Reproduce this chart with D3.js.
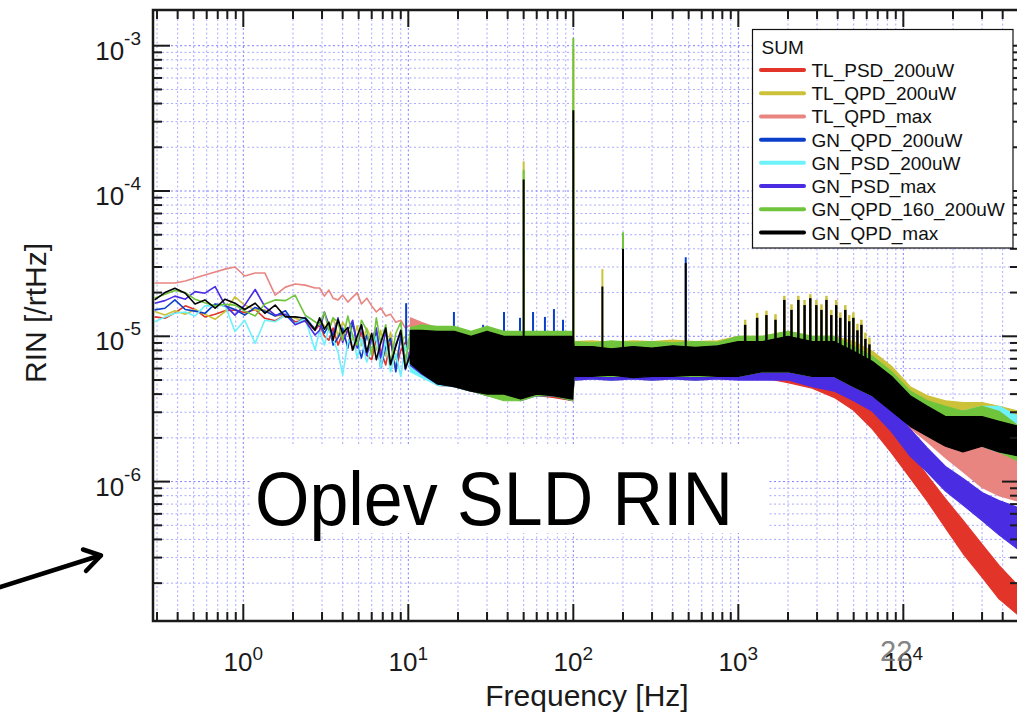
<!DOCTYPE html>
<html>
<head>
<meta charset="utf-8">
<script src="https://cdn.jsdelivr.net/npm/d3@7"></script>
<style>
  body { margin: 0; background: #fff; }
  svg { display: block; font-family: "Liberation Sans", Arial, Helvetica, sans-serif; }
</style>
</head>
<body>
<svg id="chart" width="1017" height="716"></svg>
<script>

// ---- data ----
var names = ["TL_PSD_200uW", "TL_QPD_200uW", "TL_QPD_max", "GN_QPD_200uW",
             "GN_PSD_200uW", "GN_PSD_max", "GN_QPD_160_200uW", "GN_QPD_max"];
var colors = ["#e3342a", "#cbc23a", "#e88580", "#0b3fca",
              "#6df2fa", "#4a2de3", "#6fc43c", "#000000"];

// low frequency part, single traces (Hz)
var lowF = [0.29, 0.335, 0.385, 0.445, 0.51, 0.585, 0.675, 0.775, 0.89, 1.02, 1.18, 1.35, 1.56, 1.8, 2.06, 2.37, 2.72,
            2.9, 3.1, 3.3, 3.5, 3.75, 4.0, 4.3, 4.6, 4.9, 5.2, 5.6, 6.0, 6.4, 6.8, 7.3, 7.8, 8.4, 9.0, 9.6, 10.3];
var lowRed    = [1.36e-5, 1.33e-5, 1.45e-5, 1.62e-5, 1.53e-5, 1.36e-5, 1.42e-5, 1.5e-5, 1.52e-5, 1.45e-5, 1.53e-5, 1.33e-5, 1.28e-5, 1.4e-5, 1.26e-5, 1.29e-5, 1.1e-5,
                 1.2e-5, 1.0e-5, 9.4e-6, 1.14e-5, 8.7e-6, 1.05e-5, 1.1e-5, 8.05e-6, 9.0e-6, 1.07e-5, 7.4e-6, 6.9e-6, 9.7e-6, 8.0e-6, 6.35e-6, 9.4e-6, 5.9e-6, 8.0e-6, 9.1e-6, 6.35e-6];
var lowYellow = [1.48e-5, 1.4e-5, 1.5e-5, 1.42e-5, 1.53e-5, 1.42e-5, 1.31e-5, 1.48e-5, 1.87e-5, 1.64e-5, 1.52e-5, 1.52e-5, 1.38e-5, 1.4e-5, 1.33e-5, 1.26e-5, 1.14e-5,
                 1.29e-5, 1.18e-5, 1.1e-5, 1.34e-5, 1.0e-5, 1.25e-5, 1.08e-5, 9.4e-6, 1.18e-5, 8.6e-6, 1.14e-5, 9.5e-6, 8.05e-6, 1.1e-5, 7.3e-6, 1.07e-5, 6.9e-6, 9.2e-6, 1.0e-5, 7.8e-6];
var lowPink   = [2.33e-5, 2.33e-5, 2.33e-5, 2.4e-5, 2.52e-5, 2.64e-5, 2.77e-5, 2.9e-5, 3.0e-5, 2.6e-5, 2.73e-5, 2.73e-5, 1.92e-5, 2.18e-5, 2.29e-5, 2.25e-5, 2.15e-5,
                 2.15e-5, 1.89e-5, 2.08e-5, 1.83e-5, 1.78e-5, 1.92e-5, 1.72e-5, 1.86e-5, 1.99e-5, 1.67e-5, 1.83e-5, 1.62e-5, 1.47e-5, 1.57e-5, 1.38e-5, 1.42e-5, 1.25e-5, 1.29e-5, 1.14e-5, 1.2e-5];
var lowBlue   = [1.52e-5, 1.56e-5, 1.78e-5, 1.53e-5, 1.49e-5, 1.44e-5, 1.67e-5, 1.62e-5, 1.53e-5, 1.4e-5, 1.58e-5, 1.49e-5, 1.38e-5, 1.5e-5, 1.21e-5, 1.35e-5, 1.12e-5,
                 1.25e-5, 1.05e-5, 1.2e-5, 8.7e-6, 9.8e-6, 1.14e-5, 8.3e-6, 1.25e-5, 9.0e-6, 7.1e-6, 1.02e-5, 8.0e-6, 1.1e-5, 6.05e-6, 8.5e-6, 9.7e-6, 5.7e-6, 1.02e-5, 7.0e-6, 7.4e-6];
var lowCyan   = [1.26e-5, 1.36e-5, 1.44e-5, 1.47e-5, 1.38e-5, 1.62e-5, 1.62e-5, 1.64e-5, 1.08e-5, 1.29e-5, 8.95e-6, 1.29e-5, 1.26e-5, 1.4e-5, 1.21e-5, 1.33e-5, 8.05e-6,
                 1.1e-5, 8.7e-6, 1.14e-5, 9.5e-6, 7.8e-6, 5.4e-6, 9.0e-6, 1.02e-5, 7.1e-6, 9.7e-6, 6.65e-6, 8.2e-6, 1.0e-5, 6.05e-6, 9.4e-6, 5.7e-6, 7.6e-6, 5.3e-6, 8.7e-6, 5.9e-6];
var lowPurple = [1.69e-5, 1.76e-5, 1.89e-5, 1.8e-5, 2.03e-5, 1.98e-5, 2.2e-5, 1.64e-5, 1.4e-5, 1.64e-5, 2.1e-5, 1.6e-5, 1.4e-5, 1.42e-5, 1.2e-5, 1.28e-5, 1.02e-5,
                 1.1e-5, 1.47e-5, 1.2e-5, 1.02e-5, 1.34e-5, 9.1e-6, 1.1e-5, 1.29e-5, 8.3e-6, 1.2e-5, 7.4e-6, 9.5e-6, 1.14e-5, 7.1e-6, 1.1e-5, 6.35e-6, 8.8e-6, 1.07e-5, 5.9e-6, 8.05e-6];
var lowGreen  = [1.83e-5, 1.95e-5, 2.07e-5, 2.0e-5, 1.8e-5, 1.7e-5, 1.62e-5, 1.66e-5, 1.64e-5, 1.49e-5, 1.38e-5, 1.67e-5, 1.78e-5, 1.76e-5, 1.92e-5, 1.4e-5, 1.26e-5,
                 1.2e-5, 1.47e-5, 1.1e-5, 1.34e-5, 1.25e-5, 9.4e-6, 1.38e-5, 1.0e-5, 8.7e-6, 1.29e-5, 1.1e-5, 7.4e-6, 1.34e-5, 9.0e-6, 1.2e-5, 6.35e-6, 1.05e-5, 1.25e-5, 6.5e-6, 1.1e-5];
var lowBlack  = [1.78e-5, 2.0e-5, 2.14e-5, 1.98e-5, 1.67e-5, 1.78e-5, 1.56e-5, 1.8e-5, 1.69e-5, 1.53e-5, 1.69e-5, 1.44e-5, 1.64e-5, 1.36e-5, 1.36e-5, 1.33e-5, 1.1e-5,
                 1.34e-5, 1.12e-5, 1.25e-5, 9.4e-6, 1.3e-5, 1.05e-5, 1.15e-5, 8.05e-6, 1.0e-5, 1.2e-5, 7.8e-6, 1.05e-5, 6.9e-6, 9.0e-6, 1.14e-5, 6.4e-6, 8.5e-6, 1.1e-5, 6.0e-6, 7.5e-6];

// dense part: upper / lower edge of each noisy trace (Hz)
var bandF = [10.3, 12, 15, 19, 24, 30, 38, 48, 60, 75, 99, 101, 130, 170, 230, 300, 400, 550, 750,
             1000, 1400, 2000, 2800, 3800, 5000, 6500, 8500, 11000, 14000, 18000, 23000, 30000, 38000, 50000];

var hiRed = [1.0e-5, 1.0e-5, 1.0e-5, 9.6e-6, 9.2e-6, 9.4e-6, 9.2e-6, 9.2e-6, 9.2e-6, 9.2e-6, 9.2e-6,
             8.5e-6, 8.3e-6, 8.5e-6, 8.4e-6, 8.5e-6, 8.3e-6, 8.5e-6, 8.4e-6,
             8.8e-6, 9.0e-6, 8.7e-6, 7.8e-6, 6.4e-6, 5.0e-6, 3.8e-6, 2.45e-6, 1.57e-6, 1.1e-6, 7.6e-7, 5.4e-7, 3.7e-7, 2.65e-7, 1.9e-7];
var loRed = [6.0e-6, 5.4e-6, 4.6e-6, 4.5e-6, 4.2e-6, 4.0e-6, 3.9e-6, 3.7e-6, 3.9e-6, 3.8e-6, 3.6e-6,
             5.0e-6, 5.1e-6, 5.0e-6, 5.1e-6, 5.0e-6, 5.1e-6, 5.0e-6, 5.1e-6,
             5.1e-6, 5.2e-6, 4.8e-6, 4.4e-6, 3.8e-6, 3.1e-6, 2.3e-6, 1.57e-6, 1.06e-6, 7.3e-7, 4.8e-7, 3.2e-7, 2.2e-7, 1.56e-7, 1.2e-7];

var hiYellow = [1.1e-5, 1.08e-5, 1.08e-5, 1.0e-5, 1.0e-5, 1.0e-5, 1.0e-5, 1.0e-5, 1.0e-5, 1.0e-5, 1.0e-5,
             9.2e-6, 9.3e-6, 9.1e-6, 9.3e-6, 9.2e-6, 9.4e-6, 9.2e-6, 9.3e-6,
             1.0e-5, 1.0e-5, 1.08e-5, 1.0e-5, 1.0e-5, 9.2e-6, 7.9e-6, 6.2e-6, 4.5e-6, 3.9e-6, 3.6e-6, 3.5e-6, 3.5e-6, 3.3e-6, 3.05e-6];
var loYellow = [6.8e-6, 5.8e-6, 5.0e-6, 4.9e-6, 4.5e-6, 4.2e-6, 4.2e-6, 3.9e-6, 4.2e-6, 3.9e-6, 3.9e-6,
             5.7e-6, 5.3e-6, 5.7e-6, 5.3e-6, 5.7e-6, 5.3e-6, 5.7e-6, 5.3e-6,
             5.7e-6, 5.7e-6, 5.7e-6, 5.7e-6, 5.3e-6, 4.9e-6, 4.2e-6, 3.6e-6, 2.8e-6, 2.4e-6, 2.05e-6, 1.9e-6, 1.9e-6, 1.75e-6, 1.6e-6];

var hiPink = [1.34e-5, 1.25e-5, 1.14e-5, 1.07e-5, 1.0e-5, 1.02e-5, 1.0e-5, 1.0e-5, 1.0e-5, 1.0e-5, 1.0e-5,
             8.5e-6, 8.5e-6, 8.5e-6, 8.5e-6, 8.5e-6, 8.5e-6, 8.5e-6, 8.5e-6,
             9.2e-6, 9.2e-6, 1.0e-5, 9.2e-6, 9.2e-6, 7.9e-6, 6.7e-6, 5.3e-6, 3.95e-6, 3.2e-6, 2.74e-6, 2.34e-6, 1.94e-6, 1.6e-6, 1.37e-6];
var loPink = [1.02e-5, 8.7e-6, 6.9e-6, 5.4e-6, 4.6e-6, 4.3e-6, 4.0e-6, 4.0e-6, 4.0e-6, 4.0e-6, 4.0e-6,
             5.3e-6, 5.3e-6, 5.3e-6, 5.3e-6, 5.3e-6, 5.3e-6, 5.3e-6, 5.3e-6,
             5.3e-6, 5.7e-6, 5.7e-6, 5.3e-6, 5.3e-6, 4.5e-6, 3.9e-6, 3.05e-6, 2.34e-6, 1.87e-6, 1.46e-6, 1.17e-6, 9.1e-7, 8.0e-7, 7.3e-7];

var hiBlue = [1.1e-5, 1.08e-5, 1.08e-5, 1.0e-5, 1.0e-5, 1.0e-5, 1.0e-5, 1.0e-5, 1.0e-5, 1.0e-5, 1.0e-5,
             8.5e-6, 8.6e-6, 8.4e-6, 8.6e-6, 8.5e-6, 8.7e-6, 8.5e-6, 8.6e-6,
             9.2e-6, 9.2e-6, 1.0e-5, 9.2e-6, 9.2e-6, 7.9e-6, 6.7e-6, 5.3e-6, 3.9e-6, 3.3e-6, 3.05e-6, 3.05e-6, 3.2e-6, 3.2e-6, 2.8e-6];
var loBlue = [6.3e-6, 5.5e-6, 4.7e-6, 4.5e-6, 4.2e-6, 4.2e-6, 3.9e-6, 3.9e-6, 3.9e-6, 3.9e-6, 3.9e-6,
             5.3e-6, 5.3e-6, 5.3e-6, 5.3e-6, 5.3e-6, 5.3e-6, 5.3e-6, 5.3e-6,
             5.3e-6, 5.7e-6, 5.7e-6, 5.3e-6, 5.3e-6, 4.5e-6, 3.9e-6, 3.3e-6, 2.6e-6, 2.2e-6, 1.9e-6, 1.75e-6, 1.75e-6, 1.6e-6, 1.5e-6];

var hiCyan = [1.0e-5, 1.0e-5, 1.0e-5, 9.2e-6, 9.2e-6, 9.2e-6, 9.2e-6, 9.2e-6, 9.2e-6, 9.2e-6, 9.2e-6,
             8.5e-6, 8.4e-6, 8.5e-6, 8.3e-6, 8.5e-6, 8.4e-6, 8.5e-6, 8.4e-6,
             9.2e-6, 9.2e-6, 1.0e-5, 9.2e-6, 9.2e-6, 7.9e-6, 6.7e-6, 5.3e-6, 3.9e-6, 3.3e-6, 3.05e-6, 3.05e-6, 3.3e-6, 3.3e-6, 2.8e-6];
var loCyan = [5.7e-6, 5.2e-6, 4.6e-6, 4.5e-6, 4.2e-6, 4.2e-6, 3.9e-6, 3.9e-6, 3.9e-6, 3.9e-6, 3.9e-6,
             5.0e-6, 5.1e-6, 5.0e-6, 5.1e-6, 5.0e-6, 5.1e-6, 5.0e-6, 5.1e-6,
             5.3e-6, 5.3e-6, 5.3e-6, 5.3e-6, 4.9e-6, 4.5e-6, 3.9e-6, 3.3e-6, 2.6e-6, 2.05e-6, 1.9e-6, 1.75e-6, 1.75e-6, 1.6e-6, 1.5e-6];

var hiPurple = [1.08e-5, 1.08e-5, 1.08e-5, 1.0e-5, 1.0e-5, 1.0e-5, 1.0e-5, 1.0e-5, 1.0e-5, 1.0e-5, 1.0e-5,
             8.5e-6, 8.5e-6, 8.5e-6, 8.5e-6, 8.5e-6, 8.5e-6, 8.5e-6, 8.5e-6,
             8.8e-6, 8.8e-6, 9.2e-6, 8.5e-6, 7.3e-6, 6.2e-6, 4.5e-6, 3.2e-6, 2.3e-6, 1.7e-6, 1.27e-6, 1.05e-6, 8.4e-7, 7.4e-7, 6.6e-7];
var loPurple = [6.3e-6, 5.5e-6, 4.7e-6, 4.5e-6, 4.2e-6, 3.9e-6, 3.9e-6, 3.6e-6, 3.9e-6, 3.9e-6, 3.6e-6,
             5.0e-6, 5.1e-6, 5.0e-6, 5.1e-6, 5.0e-6, 5.1e-6, 5.0e-6, 5.1e-6,
             5.0e-6, 5.0e-6, 5.0e-6, 4.5e-6, 4.2e-6, 3.6e-6, 3.05e-6, 2.2e-6, 1.5e-6, 1.16e-6, 8.6e-7, 6.9e-7, 5.4e-7, 4.3e-7, 3.4e-7];

var hiGreen = [1.15e-5, 1.2e-5, 1.17e-5, 1.17e-5, 1.08e-5, 1.17e-5, 1.08e-5, 1.08e-5, 1.08e-5, 1.08e-5, 1.08e-5,
             9.2e-6, 9.0e-6, 9.3e-6, 9.1e-6, 9.2e-6, 9.0e-6, 9.2e-6, 9.1e-6,
             1.0e-5, 1.0e-5, 1.08e-5, 1.0e-5, 1.0e-5, 8.5e-6, 7.3e-6, 5.7e-6, 4.2e-6, 3.6e-6, 3.3e-6, 3.05e-6, 3.3e-6, 3.05e-6, 2.4e-6];
var loGreen = [6.5e-6, 5.7e-6, 4.9e-6, 4.5e-6, 4.2e-6, 3.9e-6, 3.6e-6, 3.6e-6, 3.9e-6, 3.9e-6, 3.6e-6,
             5.3e-6, 5.3e-6, 5.3e-6, 5.3e-6, 5.3e-6, 5.3e-6, 5.3e-6, 5.3e-6,
             5.3e-6, 5.7e-6, 5.7e-6, 5.3e-6, 5.3e-6, 4.5e-6, 3.9e-6, 3.3e-6, 2.6e-6, 2.2e-6, 1.9e-6, 1.75e-6, 1.75e-6, 1.6e-6, 1.38e-6];

var hiBlack = [1.1e-5, 1.1e-5, 1.08e-5, 1.08e-5, 1.0e-5, 1.08e-5, 1.0e-5, 1.0e-5, 1.0e-5, 1.0e-5, 1.0e-5,
             8.5e-6, 8.5e-6, 8.2e-6, 8.5e-6, 8.3e-6, 8.6e-6, 8.4e-6, 8.6e-6,
             9.2e-6, 9.2e-6, 1.0e-5, 9.2e-6, 9.2e-6, 7.9e-6, 6.7e-6, 5.3e-6, 3.9e-6, 3.3e-6, 2.8e-6, 2.8e-6, 2.8e-6, 2.6e-6, 2.4e-6];
var loBlack = [6.5e-6, 5.6e-6, 4.7e-6, 4.5e-6, 4.2e-6, 4.0e-6, 4.0e-6, 3.7e-6, 4.0e-6, 3.9e-6, 3.7e-6,
             5.3e-6, 5.3e-6, 5.4e-6, 5.2e-6, 5.3e-6, 5.3e-6, 5.4e-6, 5.3e-6,
             5.3e-6, 5.7e-6, 5.7e-6, 5.3e-6, 5.3e-6, 4.5e-6, 3.9e-6, 3.05e-6, 2.4e-6, 2.05e-6, 1.75e-6, 1.6e-6, 1.75e-6, 1.6e-6, 1.5e-6];

// line peaks: [trace, frequency, bottom, top]
var spikes = [
  ["GN_QPD_200uW", 9.7, 8e-6, 1.69e-5], ["GN_QPD_200uW", 18.9, 8e-6, 1.47e-5], ["GN_QPD_200uW", 28.4, 8e-6, 1.2e-5],
  ["GN_QPD_200uW", 38, 8e-6, 1.47e-5], ["GN_QPD_200uW", 47.5, 8e-6, 1.34e-5], ["GN_QPD_200uW", 57, 8e-6, 1.47e-5],
  ["GN_QPD_200uW", 67.3, 8e-6, 1.36e-5], ["GN_QPD_200uW", 76.3, 8e-6, 1.54e-5], ["GN_QPD_200uW", 86.6, 8e-6, 1.3e-5],
  ["GN_QPD_200uW", 480, 6e-6, 3.5e-5],
  ["TL_QPD_200uW", 50, 6e-6, 1.6e-4], ["TL_QPD_200uW", 100, 6e-6, 9.5e-4], ["TL_QPD_200uW", 150, 6e-6, 2.9e-5], ["TL_QPD_200uW", 200, 6e-6, 4.8e-5],
  ["GN_QPD_160_200uW", 50, 6e-6, 1.4e-4], ["GN_QPD_160_200uW", 100, 6e-6, 1.13e-3], ["GN_QPD_160_200uW", 200, 6e-6, 5.2e-5],
  ["GN_QPD_max", 50, 6e-6, 1.2e-4], ["GN_QPD_max", 100, 6e-6, 3.6e-4], ["GN_QPD_max", 150, 6e-6, 2.2e-5],
  ["GN_QPD_max", 200, 6e-6, 4.0e-5], ["GN_QPD_max", 480, 6e-6, 3.2e-5]
];

// harmonic comb between 1 and 6 kHz
var harmF = [1100, 1300, 1480, 1680, 1900, 2100, 2310, 2520, 2730, 2970, 3190, 3420, 3660, 3920, 4150, 4450, 4700, 4980, 5270, 5570, 5890, 6230];
var harmBlack  = [1.2e-5, 1.34e-5, 1.4e-5, 1.3e-5, 1.78e-5, 1.52e-5, 1.78e-5, 1.64e-5, 1.83e-5, 1.64e-5, 1.52e-5, 1.78e-5, 1.4e-5, 1.64e-5, 1.34e-5, 1.52e-5, 1.27e-5, 1.34e-5, 1.1e-5, 1.2e-5, 9.6e-6, 8.8e-6];
var harmYellow = [1.3e-5, 1.45e-5, 1.5e-5, 1.42e-5, 1.9e-5, 1.66e-5, 1.9e-5, 1.78e-5, 1.95e-5, 1.78e-5, 1.66e-5, 1.9e-5, 1.52e-5, 1.78e-5, 1.46e-5, 1.64e-5, 1.4e-5, 1.46e-5, 1.22e-5, 1.3e-5, 1.06e-5, 9.8e-6];

var xLabels = [1, 10, 100, 1000, 10000];
var yLabels = [1e-3, 1e-4, 1e-5, 1e-6];

// ---- layout ----
var plot = {left: 153, top: 10, right: 1019, bottom: 621};

var x = d3.scaleLog().domain([0.2836, 50230]).range([plot.left, plot.right]),
    y = d3.scaleLog().domain([1.761e-3, 1.098e-7]).range([plot.top, plot.bottom]);

var svg = d3.select("#chart");

svg.append("defs").append("clipPath").attr("id", "clip")
   .append("rect")
   .attr("x", plot.left).attr("y", plot.top)
   .attr("width", plot.right - plot.left).attr("height", plot.bottom - plot.top);

function isMajor(t) {
    var l = Math.log10(t);
    return Math.abs(l - Math.round(l)) < 1e-6;
}

var xt = x.ticks(),
    yt = y.ticks();

// grid
var grid = svg.append("g").attr("clip-path", "url(#clip)");

grid.selectAll(".gx").data(xt).enter().append("line")
    .attr("x1", d => x(d)).attr("x2", d => x(d))
    .attr("y1", plot.top).attr("y2", plot.bottom)
    .attr("stroke", d => isMajor(d) ? "#7c7cff" : "#a9a9ff")
    .attr("stroke-width", 1)
    .attr("stroke-dasharray", "2,2.5");

grid.selectAll(".gy").data(yt).enter().append("line")
    .attr("x1", plot.left).attr("x2", plot.right)
    .attr("y1", d => y(d)).attr("y2", d => y(d))
    .attr("stroke", d => isMajor(d) ? "#7c7cff" : "#a9a9ff")
    .attr("stroke-width", 1)
    .attr("stroke-dasharray", "2,2.5");

// traces
var lows = [lowRed, lowYellow, lowPink, lowBlue, lowCyan, lowPurple, lowGreen, lowBlack],
    his  = [hiRed, hiYellow, hiPink, hiBlue, hiCyan, hiPurple, hiGreen, hiBlack],
    los  = [loRed, loYellow, loPink, loBlue, loCyan, loPurple, loGreen, loBlack];

var traces = names.map((n, i) => ({name: n, color: colors[i], low: lows[i], hi: his[i], lo: los[i]}));

var data = svg.append("g").attr("clip-path", "url(#clip)");

var lowLine = d3.line()
    .x((d, i) => x(lowF[i]))
    .y(d => y(d));

traces.forEach(function (t) {
    var g = data.append("g");

    g.append("path")
     .attr("d", lowLine(t.low))
     .attr("fill", "none")
     .attr("stroke", t.color)
     .attr("stroke-width", 1.6)
     .attr("stroke-linejoin", "round");

    var band = d3.area()
        .x((d, i) => x(bandF[i]))
        .y0((d, i) => y(t.lo[i]))
        .y1((d, i) => y(t.hi[i]));

    g.append("path")
     .attr("d", band(bandF))
     .attr("fill", t.color)
     .attr("stroke", t.color)
     .attr("stroke-width", 1.2)
     .attr("stroke-linejoin", "round");

    g.selectAll(".spk")
     .data(spikes.filter(s => s[0] === t.name))
     .enter().append("line")
     .attr("x1", d => x(d[1])).attr("x2", d => x(d[1]))
     .attr("y1", d => y(d[2])).attr("y2", d => y(d[3]))
     .attr("stroke", t.color)
     .attr("stroke-width", 2);

    var comb = t.name === "GN_QPD_max" ? harmBlack : (t.name === "TL_QPD_200uW" ? harmYellow : null);
    if (comb) {
        g.selectAll(".harm")
         .data(harmF)
         .enter().append("line")
         .attr("x1", d => x(d)).attr("x2", d => x(d))
         .attr("y1", y(6e-6))
         .attr("y2", (d, i) => y(comb[i]))
         .attr("stroke", t.color)
         .attr("stroke-width", 2.5);
    }
});

// axes box and ticks (inside, all four sides)
var axes = svg.append("g").attr("stroke", "#1a1a1a");

axes.append("rect")
    .attr("x", plot.left).attr("y", plot.top)
    .attr("width", plot.right - plot.left).attr("height", plot.bottom - plot.top)
    .attr("fill", "none").attr("stroke-width", 2.5);

axes.selectAll(".tb").data(xt).enter().append("line")
    .attr("x1", d => x(d)).attr("x2", d => x(d))
    .attr("y1", plot.bottom).attr("y2", d => plot.bottom - (isMajor(d) ? 17 : 9))
    .attr("stroke-width", 2);

axes.selectAll(".tt").data(xt).enter().append("line")
    .attr("x1", d => x(d)).attr("x2", d => x(d))
    .attr("y1", plot.top).attr("y2", d => plot.top + (isMajor(d) ? 17 : 9))
    .attr("stroke-width", 2);

axes.selectAll(".tl").data(yt).enter().append("line")
    .attr("x1", plot.left).attr("x2", d => plot.left + (isMajor(d) ? 17 : 9))
    .attr("y1", d => y(d)).attr("y2", d => y(d))
    .attr("stroke-width", 2);

axes.selectAll(".tr").data(yt).enter().append("line")
    .attr("x1", plot.right).attr("x2", d => plot.right - (isMajor(d) ? 17 : 9))
    .attr("y1", d => y(d)).attr("y2", d => y(d))
    .attr("stroke-width", 2);

// tick labels
var xl = svg.append("g").selectAll("text").data(xLabels).enter().append("text")
    .attr("x", d => x(d)).attr("y", 670.5)
    .attr("text-anchor", "middle")
    .attr("fill", "#1a1a1a");
xl.append("tspan").attr("font-size", 26).text("10");
xl.append("tspan").attr("font-size", 19).attr("dy", -11).text(d => Math.round(Math.log10(d)));

var yl = svg.append("g").selectAll("text").data(yLabels).enter().append("text")
    .attr("x", 141).attr("y", d => y(d) + 14)
    .attr("text-anchor", "end")
    .attr("fill", "#1a1a1a");
yl.append("tspan").attr("font-size", 26).text("10");
yl.append("tspan").attr("font-size", 19).attr("dy", -15).text(d => "-" + Math.round(-Math.log10(d)));

// axis titles
svg.append("text")
   .attr("x", 587).attr("y", 706)
   .attr("text-anchor", "middle")
   .attr("font-size", 30)
   .attr("fill", "#1a1a1a")
   .text("Frequency [Hz]");

svg.append("text")
   .attr("transform", "translate(46,313) rotate(-90)")
   .attr("text-anchor", "middle")
   .attr("font-size", 30)
   .attr("fill", "#1a1a1a")
   .text("RIN [/rtHz]");

// legend
var legend = svg.append("g");
legend.append("rect")
      .attr("x", 752.5).attr("y", 29.5).attr("width", 260.5).attr("height", 218.5)
      .attr("fill", "#fff").attr("stroke", "#111").attr("stroke-width", 1.2);
legend.append("text")
      .attr("x", 761.5).attr("y", 53.5)
      .attr("font-size", 19).attr("fill", "#111")
      .text("SUM");

var rowY = d3.scaleLinear().domain([0, names.length - 1]).range([70, 232.5]);
var item = legend.selectAll(".item").data(traces).enter().append("g");
item.append("line")
    .attr("x1", 761).attr("x2", 804)
    .attr("y1", (d, i) => rowY(i)).attr("y2", (d, i) => rowY(i))
    .attr("stroke", d => d.color)
    .attr("stroke-width", 4)
    .attr("stroke-linecap", "round");
item.append("text")
    .attr("x", 811.5).attr("y", (d, i) => rowY(i) + 7)
    .attr("font-size", 19).attr("fill", "#111")
    .text(d => d.name);

// slide overlay: title box, arrow, page number
svg.append("rect")
   .attr("x", 250).attr("y", 444).attr("width", 518).attr("height", 89)
   .attr("fill", "#fff");
svg.append("text")
   .attr("x", 255).attr("y", 525)
   .attr("font-size", 76)
   .attr("textLength", 478).attr("lengthAdjust", "spacingAndGlyphs")
   .attr("fill", "#000")
   .text("Oplev SLD RIN");

svg.append("path")
   .attr("d", "M-6,589 L100,555.5")
   .attr("stroke", "#000").attr("stroke-width", 4.5).attr("fill", "none")
   .attr("stroke-linecap", "round");
svg.append("path")
   .attr("d", "M83,549.5 L101,555.5 L86,571")
   .attr("stroke", "#000").attr("stroke-width", 4.5).attr("fill", "none")
   .attr("stroke-linecap", "round").attr("stroke-linejoin", "round");

svg.append("text")
   .attr("x", 880).attr("y", 661)
   .attr("font-size", 29)
   .attr("fill", "#777")
   .attr("opacity", 0.9)
   .text("22");

</script>
</body>
</html>
